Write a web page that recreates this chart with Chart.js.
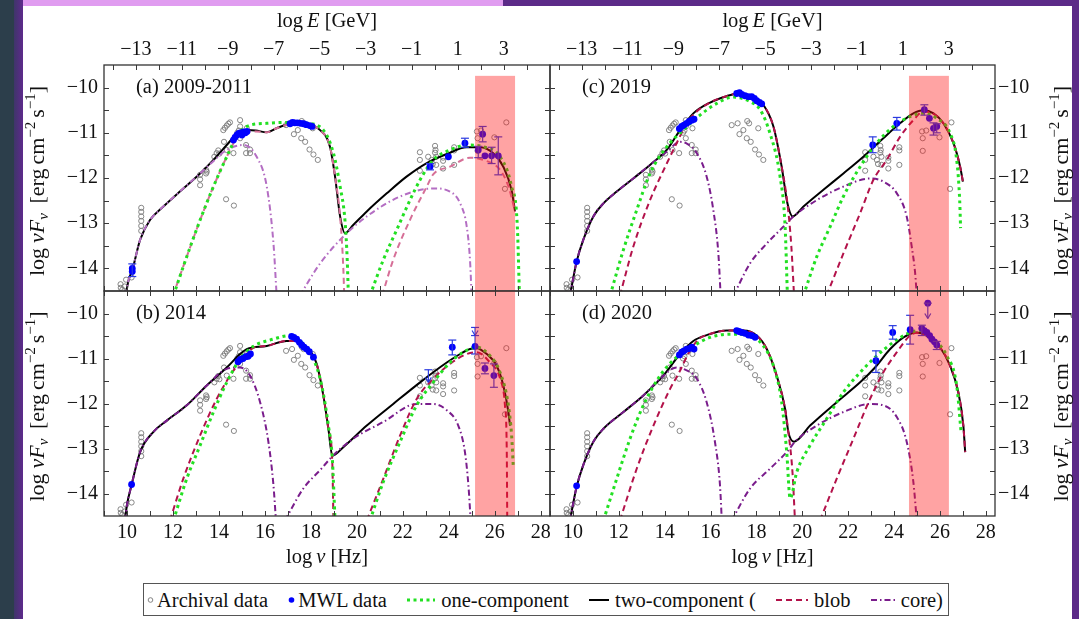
<!DOCTYPE html>
<html><head><meta charset="utf-8">
<script src="https://cdn.jsdelivr.net/npm/chart.js@4.4.1/dist/chart.umd.min.js"></script>
<style>
html,body{margin:0;padding:0;width:1079px;height:619px;overflow:hidden;background:#fff;font-family:'Liberation Serif','Times New Roman',serif;}
.abs{position:absolute;}
#sL1{left:0;top:0;width:14px;height:619px;background:#2c3e4b;}
#sL2{left:14px;top:0;width:9px;height:619px;background:linear-gradient(90deg,#3f356a,#5e2a8c);}
#sR{left:1072px;top:0;width:7px;height:619px;background:#5c2a88;}
#tA{left:23px;top:0;width:480px;height:6px;background:#e09cf0;}
#tB{left:503px;top:0;width:576px;height:6px;background:#5c2a88;}
canvas{position:absolute;left:0;top:0;}
#legend{left:143px;top:583px;width:806px;height:33px;border:1px solid #555;background:#fff;box-sizing:border-box;
  display:flex;align-items:center;justify-content:space-between;padding:0 5px 0 3px;}
#legend .it{display:flex;align-items:center;font-size:20.5px;line-height:22px;color:#111;white-space:nowrap;}
#legend svg{display:block;margin-right:3px;}
</style></head><body>
<div class="abs" id="sL1"></div><div class="abs" id="sL2"></div><div class="abs" id="sR"></div>
<div class="abs" id="tA"></div><div class="abs" id="tB"></div>
<canvas id="ca" width="1079" height="619"></canvas>
<canvas id="cb" width="1079" height="619"></canvas>
<canvas id="cc" width="1079" height="619"></canvas>
<canvas id="cd" width="1079" height="619"></canvas>
<div class="abs" id="legend">
 <div class="it"><svg width="7" height="8"><circle cx="3.5" cy="4" r="2.3" fill="none" stroke="#777" stroke-width="0.9"/></svg>Archival data</div>
 <div class="it"><svg width="7" height="8"><circle cx="3.5" cy="4" r="2.8" fill="#0000ff"/></svg>MWL data</div>
 <div class="it"><svg width="28" height="10" style="margin-right:6px"><line x1="0" y1="5" x2="28" y2="5" stroke="#22e022" stroke-width="3" stroke-dasharray="3,3.5"/></svg>one-component</div>
 <div class="it"><svg width="20" height="10" style="margin-right:6px"><line x1="0" y1="5" x2="20" y2="5" stroke="#000" stroke-width="2"/></svg>two-component (</div>
 <div class="it"><svg width="32" height="10" style="margin-right:6px"><line x1="0" y1="5" x2="32" y2="5" stroke="#b3124a" stroke-width="2" stroke-dasharray="6,4"/></svg>blob</div>
 <div class="it"><svg width="26" height="10" style="margin-right:4px"><line x1="0" y1="5" x2="26" y2="5" stroke="#7a1d8c" stroke-width="2" stroke-dasharray="6,3,1.5,3"/></svg>core)</div>
</div>
<script>
// ---------------- axes ----------------
const nuRange = [9, 28.4];
const fRange = [-14.5, -9.5];
const logHGeV = -23.383;            // log E[GeV] = log nu[Hz] + log(h/GeV)
const nuTicks = [9,10,11,12,13,14,15,16,17,18,19,20,21,22,23,24,25,26,27,28];
const nuLabels = [10,12,14,16,18,20,22,24,26,28];
const eTicks = [-14,-13,-12,-11,-10,-9,-8,-7,-6,-5,-4,-3,-2,-1,0,1,2,3,4,5];
const eLabels = [-13,-11,-9,-7,-5,-3,-1,1,3];
const fTicks = [-14.5,-14,-13.5,-13,-12.5,-12,-11.5,-11,-10.5,-10,-9.5];
const fLabels = [-14,-13,-12,-11,-10];
const bandLeft = [25.14, 26.88];    // shaded VHE window, panels a,b
const bandRight = [24.65, 26.39];   // panels c,d
const bandTop = -9.74;

// ---------------- archival data (same in all panels) ----------------
const archival = [
[9.72,-14.35],[9.73,-14.43],[9.80,-14.47],[9.90,-14.40],[9.96,-14.25],[10.20,-14.20],
[10.62,-12.66],[10.62,-12.75],[10.62,-12.85],[10.62,-12.95],[10.62,-13.06],[10.62,-13.17],
[13.18,-11.93],[13.18,-12.03],[13.18,-12.16],[13.44,-11.82],[13.44,-11.90],[13.47,-11.86],
[13.80,-11.53],[13.90,-11.45],[13.97,-11.39],[14.02,-11.46],
[14.19,-10.94],[14.26,-10.89],[14.34,-10.84],[14.41,-10.80],[14.48,-10.77],[14.92,-10.72],
[14.22,-11.20],[14.34,-11.38],[14.31,-12.47],[14.65,-12.61],[14.63,-11.45],[14.92,-10.86],[14.92,-11.12],
[15.18,-11.27],[15.35,-11.37],[15.18,-11.45],[15.35,-11.45],[15.21,-10.90],[14.80,-11.00],[14.86,-10.95],
[16.92,-10.83],[17.18,-10.79],[17.26,-11.03],[17.43,-10.94],[17.60,-10.74],[17.68,-10.79],[17.58,-11.12],
[17.75,-11.20],[17.94,-11.37],[18.08,-10.90],[18.11,-11.48],[18.30,-11.60],
[22.74,-11.43],[22.74,-11.60],[22.74,-11.84],[23.10,-11.53],[23.25,-11.60],[23.30,-11.69],[23.40,-11.29],
[23.42,-11.38],[23.40,-11.44],[23.45,-11.53],[23.45,-11.71],[23.75,-11.55],[23.75,-11.62],[23.75,-11.79],
[24.23,-11.32],[24.23,-11.39],[24.23,-11.71],
[25.22,-10.97],[25.25,-11.12],[25.25,-11.40],[25.40,-10.95],[25.98,-11.10],[26.50,-10.77],[26.44,-12.24]
];

// ---------------- (a) 2009-2011 ----------------
const a_two = [[9.95,-14.6],[10.05,-14.3],[10.25,-14.0],[10.57,-13.37],[11.0,-12.93],[11.5,-12.67],[12.3,-12.3],[13.18,-11.90],[13.76,-11.60],[14.34,-11.27],[14.77,-11.03],[15.21,-10.94],[15.6,-10.95],[16.08,-10.99],[16.5,-10.9],[16.95,-10.83],[17.82,-10.83],[18.40,-10.94],[18.83,-11.31],[19.05,-11.97],[19.27,-12.85],[19.48,-13.22],[19.84,-13.04],[20.43,-12.74],[21.30,-12.34],[22.16,-11.97],[23.04,-11.67],[23.91,-11.47],[24.78,-11.32],[25.35,-11.32],[25.93,-11.45],[26.37,-11.75],[26.73,-12.27],[26.88,-12.74]];
const a_one_syn = [[12.02,-14.6],[12.60,-13.74],[13.18,-12.93],[13.76,-12.19],[14.34,-11.53],[14.77,-11.09],[15.21,-10.86],[16.08,-10.79],[16.95,-10.77],[17.82,-10.79],[18.54,-10.94],[18.98,-11.45],[19.27,-12.19],[19.48,-12.93],[19.58,-13.81],[19.63,-14.6]];
const a_one_ic = [[20.57,-14.6],[21.15,-13.81],[21.73,-13.15],[22.31,-12.49],[22.75,-12.04],[23.32,-11.60],[24.05,-11.38],[24.78,-11.27],[25.50,-11.31],[26.23,-11.53],[26.73,-12.19],[26.98,-13.08],[27.07,-14.6]];
const a_blob_syn = [[12.0,-14.6],[12.6,-13.74],[13.18,-12.93],[13.76,-12.19],[14.34,-11.53],[14.77,-11.12],[15.21,-10.98],[15.6,-10.97],[16.08,-10.99],[16.5,-10.9],[16.95,-10.83],[17.82,-10.83],[18.40,-10.94],[18.83,-11.31],[19.05,-11.97],[19.27,-12.85],[19.41,-14.0],[19.45,-14.6]];
const a_blob_ic = [[21.1,-14.6],[21.58,-13.81],[22.38,-12.85],[23.04,-12.19],[23.32,-11.92],[24.05,-11.75],[24.92,-11.55],[25.5,-11.6],[26.23,-11.82],[26.6,-12.2],[26.88,-12.74]];
const a_core_syn = [[9.95,-14.6],[10.05,-14.3],[10.25,-14.0],[10.57,-13.37],[11.0,-12.93],[11.5,-12.67],[12.3,-12.3],[13.18,-11.9],[13.6,-11.7],[14.34,-11.38],[15.06,-11.27],[15.64,-11.53],[16.08,-12.19],[16.37,-13.44],[16.51,-14.6]];
const a_core_ic = [[17.52,-14.6],[18.4,-13.89],[19.48,-13.26],[20.43,-12.85],[21.88,-12.41],[23.32,-12.23],[24.05,-12.30],[24.49,-12.56],[24.78,-13.08],[24.92,-13.81],[24.99,-14.6]];
const a_mwl = [[10.23,-14.0],[10.23,-14.07],[14.63,-11.16],[14.70,-11.10],[14.78,-11.05],[14.85,-11.02],[14.92,-11.00],[15.00,-11.05],[15.07,-10.98],[15.15,-11.00],[15.22,-10.97],[17.09,-10.80],[17.20,-10.77],[17.30,-10.78],[17.42,-10.78],[17.55,-10.79],[17.68,-10.80],[17.80,-10.82],[17.95,-10.84],[18.05,-10.86],[23.18,-11.75],[23.98,-11.53],[24.70,-11.23],[25.47,-11.03],[25.28,-11.38],[25.57,-11.51],[25.86,-11.51],[26.15,-11.51]];
const a_err = [[10.23,-13.90,-14.18],[23.18,-11.68,-11.82],[24.70,-11.12,-11.32],[25.47,-10.86,-11.20],[25.28,-11.30,-11.55],[25.86,-11.32,-11.68],[26.15,-11.09,-11.93]];
const a_ul = [];

// ---------------- (b) 2014 ----------------
const b_two = [[9.91,-14.6],[10.0,-14.25],[10.20,-13.81],[10.57,-13.08],[11.15,-12.63],[11.73,-12.38],[12.60,-12.04],[13.47,-11.60],[14.34,-11.20],[14.92,-10.90],[15.21,-10.79],[16.08,-10.72],[16.95,-10.61],[17.38,-10.61],[17.82,-10.75],[18.25,-11.12],[18.54,-11.82],[18.76,-12.56],[18.93,-13.16],[19.41,-12.97],[20.43,-12.49],[21.58,-12.01],[22.75,-11.53],[23.91,-11.09],[24.49,-10.90],[24.92,-10.79],[25.21,-10.77],[25.65,-10.90],[26.08,-11.16],[26.37,-11.60],[26.59,-12.19],[26.66,-12.49]];
const b_one_syn = [[12.02,-14.6],[12.60,-13.67],[13.18,-12.93],[13.76,-12.19],[14.34,-11.53],[14.92,-11.01],[15.50,-10.73],[16.36,-10.57],[17.09,-10.49],[17.67,-10.68],[18.11,-11.01],[18.47,-11.60],[18.76,-12.49],[18.93,-13.22],[19.05,-14.6]];
const b_one_ic = [[20.57,-14.6],[21.15,-13.74],[21.88,-12.85],[22.60,-12.04],[23.32,-11.53],[24.05,-11.09],[24.63,-10.86],[25.21,-10.75],[25.79,-10.94],[26.23,-11.31],[26.59,-12.04],[26.73,-12.71],[26.80,-13.37]];
const b_blob_syn = [[11.87,-14.6],[12.45,-13.67],[13.18,-12.71],[13.90,-11.90],[14.63,-11.27],[15.21,-10.90],[15.5,-10.76],[16.08,-10.72],[16.95,-10.61],[17.38,-10.61],[17.82,-10.75],[18.25,-11.12],[18.54,-11.82],[18.76,-12.56],[18.93,-13.3],[18.98,-14.6]];
const b_blob_ic = [[20.43,-14.6],[21.15,-13.67],[21.88,-12.71],[22.60,-11.90],[23.32,-11.45],[24.05,-11.12],[24.78,-10.90],[25.21,-10.86],[25.79,-11.09],[26.23,-11.45],[26.44,-12.04],[26.52,-13.08],[26.54,-14.6]];
const b_core_syn = [[9.91,-14.6],[10.0,-14.25],[10.20,-13.81],[10.57,-13.08],[11.15,-12.63],[11.73,-12.38],[12.60,-12.04],[13.47,-11.60],[14.34,-11.23],[14.92,-11.20],[15.35,-11.38],[15.79,-11.97],[16.15,-12.85],[16.37,-13.81],[16.48,-14.6]];
const b_core_ic = [[16.87,-14.6],[17.67,-13.89],[18.40,-13.48],[18.98,-13.15],[19.85,-12.78],[21.15,-12.41],[22.60,-12.01],[23.32,-12.01],[23.91,-12.15],[24.41,-12.49],[24.70,-13.08],[24.85,-13.81],[24.95,-14.6]];
const b_mwl = [[10.20,-13.80],[14.83,-11.07],[14.93,-11.02],[15.05,-11.00],[15.17,-10.96],[15.27,-10.95],[15.37,-10.90],[17.16,-10.51],[17.26,-10.53],[17.38,-10.57],[17.50,-10.64],[17.60,-10.70],[17.70,-10.75],[17.82,-10.79],[17.93,-10.85],[18.11,-10.97],[24.15,-10.75],[25.14,-10.73],[25.57,-11.22],[25.96,-11.38]];
const b_err = [[24.15,-10.59,-10.92],[25.14,-10.49,-10.90],[25.57,-11.10,-11.34],[25.96,-11.12,-11.64]];
const b_ul = [[23.11,-11.25,-11.53],[25.14,-10.31,-10.49]];

// ---------------- (c) 2019 ----------------
const c_two = [[9.87,-14.6],[10.0,-14.25],[10.16,-13.85],[10.45,-13.37],[10.89,-12.85],[11.33,-12.56],[11.91,-12.30],[12.63,-12.01],[13.36,-11.71],[14.09,-11.38],[14.67,-10.94],[15.25,-10.57],[15.98,-10.33],[16.70,-10.19],[17.21,-10.13],[17.87,-10.21],[18.30,-10.38],[18.74,-10.86],[19.10,-11.75],[19.35,-12.56],[19.58,-12.85],[20.05,-12.63],[20.92,-12.26],[21.79,-11.90],[22.66,-11.53],[23.53,-11.12],[24.26,-10.79],[24.84,-10.57],[25.28,-10.50],[25.72,-10.57],[26.15,-10.79],[26.59,-11.23],[26.88,-11.75],[27.0,-12.08]];
const c_one_syn = [[11.62,-14.6],[12.20,-13.59],[12.78,-12.71],[13.36,-11.90],[14.09,-11.31],[14.81,-10.94],[15.54,-10.61],[16.27,-10.35],[16.99,-10.21],[17.72,-10.31],[18.16,-10.49],[18.59,-11.01],[19.03,-11.97],[19.25,-13.08],[19.35,-14.6]];
const c_one_ic = [[20.05,-14.6],[20.63,-13.74],[21.21,-13.08],[21.79,-12.41],[22.52,-11.75],[23.24,-11.23],[23.97,-10.86],[24.70,-10.64],[25.28,-10.57],[25.86,-10.68],[26.44,-11.01],[26.73,-11.60],[26.86,-12.49],[26.9,-13.11]];
const c_blob_syn = [[12.05,-14.6],[12.63,-13.52],[13.36,-12.49],[14.09,-11.68],[14.52,-11.23],[14.9,-10.85],[15.25,-10.6],[15.98,-10.33],[16.70,-10.19],[17.21,-10.13],[17.87,-10.21],[18.30,-10.38],[18.74,-10.86],[19.10,-11.75],[19.35,-12.56],[19.52,-13.5],[19.64,-14.6]];
const c_blob_ic = [[21.06,-14.6],[21.79,-13.67],[22.52,-12.78],[23.10,-12.04],[23.68,-11.60],[24.26,-11.09],[24.84,-10.72],[25.28,-10.53],[25.72,-10.58],[26.15,-10.79],[26.59,-11.23],[26.88,-11.75],[27.0,-12.08]];
const c_core_syn = [[9.87,-14.6],[10.0,-14.25],[10.16,-13.85],[10.45,-13.37],[10.89,-12.85],[11.33,-12.56],[11.91,-12.30],[12.63,-12.01],[13.36,-11.71],[14.09,-11.42],[14.67,-11.20],[15.0,-11.25],[15.40,-11.45],[15.83,-11.97],[16.12,-12.71],[16.34,-13.67],[16.44,-14.6]];
const c_core_ic = [[17.0,-14.6],[17.72,-13.89],[18.45,-13.45],[19.17,-13.08],[19.61,-12.85],[20.63,-12.49],[21.79,-12.19],[22.95,-12.01],[23.53,-12.08],[24.12,-12.34],[24.55,-12.85],[24.77,-13.52],[24.92,-14.11],[24.99,-14.6]];
const c_mwl = [[10.16,-13.85],[14.64,-10.91],[14.74,-10.86],[14.84,-10.83],[14.96,-10.79],[15.07,-10.75],[15.18,-10.72],[15.28,-10.70],[17.14,-10.13],[17.26,-10.11],[17.36,-10.15],[17.50,-10.18],[17.65,-10.20],[17.79,-10.20],[17.91,-10.24],[18.01,-10.29],[18.13,-10.33],[18.23,-10.36],[23.07,-11.27],[24.12,-10.79],[25.32,-10.49],[25.54,-10.68],[25.72,-10.90],[25.86,-10.86]];
const c_err = [[23.07,-11.09,-11.44],[24.12,-10.66,-10.94],[25.32,-10.38,-10.61],[25.72,-10.78,-11.05],[25.86,-10.80,-11.00]];
const c_ul = [];

// ---------------- (d) 2020 ----------------
const d_two = [[9.87,-14.6],[10.0,-14.25],[10.16,-13.85],[10.45,-13.37],[10.89,-12.85],[11.33,-12.56],[12.20,-12.19],[13.07,-11.82],[13.94,-11.38],[14.67,-10.90],[15.25,-10.61],[15.83,-10.48],[16.70,-10.38],[17.43,-10.38],[18.01,-10.49],[18.45,-10.79],[18.88,-11.38],[19.25,-12.12],[19.39,-12.63],[19.64,-12.85],[20.34,-12.49],[21.50,-11.97],[22.52,-11.53],[23.17,-11.20],[23.83,-10.79],[24.41,-10.53],[24.99,-10.42],[25.42,-10.49],[26.0,-10.75],[26.44,-11.16],[26.80,-11.75],[27.02,-12.49],[27.10,-13.08]];
const d_one_syn = [[11.33,-14.6],[11.91,-13.67],[12.49,-12.78],[13.07,-12.04],[13.80,-11.38],[14.52,-10.97],[15.25,-10.72],[15.98,-10.53],[16.85,-10.46],[17.72,-10.49],[18.30,-10.72],[18.74,-11.16],[19.10,-11.97],[19.32,-13.08],[19.47,-14.11],[19.76,-13.52],[20.34,-12.93],[21.06,-12.34],[21.79,-11.75],[22.52,-11.31],[23.24,-10.94],[23.97,-10.64],[24.70,-10.42],[25.13,-10.38],[25.72,-10.57],[26.30,-10.94],[26.73,-11.60],[26.92,-12.63]];
const d_one_ic = [];
const d_blob_syn = [[12.05,-14.6],[12.78,-13.45],[13.51,-12.49],[14.23,-11.68],[14.60,-11.34],[15.10,-10.83],[15.5,-10.56],[15.83,-10.48],[16.70,-10.38],[17.43,-10.38],[18.01,-10.49],[18.45,-10.79],[18.88,-11.38],[19.25,-12.12],[19.39,-12.63],[19.57,-13.52],[19.68,-14.6]];
const d_blob_ic = [[20.77,-14.6],[21.50,-13.67],[22.23,-12.78],[22.95,-11.90],[23.53,-11.31],[24.12,-10.86],[24.70,-10.49],[24.99,-10.43],[25.42,-10.49],[26.0,-10.75],[26.44,-11.16],[26.80,-11.75],[27.02,-12.49],[27.10,-13.08]];
const d_core_syn = [[9.87,-14.6],[10.0,-14.25],[10.16,-13.85],[10.45,-13.37],[10.89,-12.85],[11.33,-12.56],[12.20,-12.19],[13.07,-11.82],[13.8,-11.45],[14.52,-11.20],[14.81,-11.23],[15.40,-11.45],[15.83,-11.97],[16.19,-12.85],[16.41,-13.81],[16.49,-14.6]];
const d_core_ic = [[16.92,-14.6],[17.72,-13.89],[18.59,-13.45],[19.39,-13.04],[19.68,-12.85],[20.63,-12.49],[21.79,-12.19],[22.95,-12.01],[23.53,-12.04],[24.12,-12.30],[24.55,-12.85],[24.84,-13.74],[24.99,-14.6]];
const d_mwl = [[10.16,-13.83],[14.64,-10.92],[14.74,-10.86],[14.84,-10.83],[14.96,-10.79],[15.07,-10.78],[15.18,-10.75],[15.28,-10.79],[17.14,-10.38],[17.24,-10.40],[17.36,-10.42],[17.50,-10.44],[17.65,-10.48],[17.79,-10.49],[17.94,-10.53],[23.21,-11.05],[23.94,-10.42],[24.70,-10.36],[25.47,-9.77],[25.21,-10.33],[25.32,-10.38],[25.43,-10.42],[25.55,-10.49],[25.65,-10.57],[25.76,-10.63],[25.86,-10.70]];
const d_err = [[23.21,-10.83,-11.31],[23.94,-10.27,-10.57],[24.70,-10.04,-10.68],[25.21,-10.26,-10.49],[25.86,-10.62,-10.80]];
const d_ul = [[25.47,-9.77,-10.11]];

// ---------------- drawing ----------------
const W = 1079, H = 619;
const FONT = "'Liberation Serif','Times New Roman',serif";
const toXY = a => a.map(p => ({x:p[0], y:p[1]}));
const fmt = v => (v < 0 ? '\u2212' + Math.abs(v) : String(v));

function rich(ctx, segs, cx, cy, rot, size) {
  ctx.save(); ctx.translate(cx, cy); ctx.rotate(rot);
  ctx.fillStyle = '#111'; ctx.textBaseline = 'alphabetic'; ctx.textAlign = 'left';
  const f = s => (s.i ? 'italic ' : '') + (s.sz || size) + 'px ' + FONT;
  let w = 0; for (const s of segs) { ctx.font = f(s); w += ctx.measureText(s.t).width + (s.gap || 0); }
  let px = -w / 2;
  for (const s of segs) { ctx.font = f(s); ctx.fillText(s.t, px, s.dy || 0); px += ctx.measureText(s.t).width + (s.gap || 0); }
  ctx.restore();
}
const yTitle = [{t:'log',gap:5},{t:'\u03bd',i:1},{t:'F',i:1},{t:'\u03bd',i:1,sz:15,dy:4,gap:4},{t:' [erg',gap:4},{t:'cm'},{t:'\u22122',sz:15,dy:-9,gap:4},{t:'s'},{t:'\u22121',sz:15,dy:-9},{t:']'}];
const eTitle = [{t:'log',gap:4},{t:'E',i:1},{t:' [GeV]'}];
const nuTitle = [{t:'log',gap:4},{t:'\u03bd',i:1},{t:' [Hz]'}];

function makePlugin(p) {
  return {
    id: 'sed' + p.id,
    afterDatasetsDraw(chart) {
      const ctx = chart.ctx, xs = chart.scales.x, ys = chart.scales.y, ca = chart.chartArea;
      const X = v => xs.getPixelForValue(v), Y = v => ys.getPixelForValue(v);
      const ln = (x1, y1, x2, y2) => { ctx.beginPath(); ctx.moveTo(x1, y1); ctx.lineTo(x2, y2); ctx.stroke(); };
      ctx.save();
      ctx.beginPath(); ctx.rect(ca.left, ca.top, ca.right - ca.left, ca.bottom - ca.top); ctx.clip();
      ctx.strokeStyle = '#2a3ae0'; ctx.lineWidth = 1.2;
      for (const e of p.err) {
        const px = X(e[0]), y1 = Y(e[1]), y2 = Y(e[2]);
        ln(px, y1, px, y2); ln(px - 4, y1, px + 4, y1); ln(px - 4, y2, px + 4, y2);
      }
      for (const u of p.ul) {
        const px = X(u[0]), y1 = Y(u[1]), y2 = Y(u[2]);
        ln(px - 4, y1, px + 4, y1); ln(px, y1, px, y2);
        ln(px - 3, y2 - 5, px, y2); ln(px + 3, y2 - 5, px, y2);
      }
      // shaded band (over the data)
      const bx1 = X(p.band[0]), bx2 = X(p.band[1]);
      const by1 = p.top ? Y(bandTop) : ca.top;
      ctx.fillStyle = 'rgba(255,25,25,0.40)';
      ctx.fillRect(bx1, by1, bx2 - bx1, ca.bottom - by1);
      ctx.restore();

      // frame + inward ticks
      ctx.save();
      ctx.strokeStyle = '#3a3a3a'; ctx.lineWidth = 1;
      const TL = 5;
      for (const v of fTicks) {
        if (v <= fRange[0] || v >= fRange[1]) continue;
        const py = Math.round(Y(v)) + 0.5;
        ln(ca.left, py, ca.left + TL, py); ln(ca.right - TL, py, ca.right, py);
      }
      for (const v of nuTicks) {
        const px = Math.round(X(v)) + 0.5;
        ln(px, ca.bottom, px, ca.bottom - TL);
        if (!p.top) ln(px, ca.top, px, ca.top + TL);
      }
      if (p.top) {
        const es = chart.scales.xE;
        for (const v of eTicks) {
          const px = Math.round(es.getPixelForValue(v)) + 0.5;
          if (px <= ca.left || px >= ca.right) continue;
          ln(px, ca.top, px, ca.top + TL);
        }
      }
      ctx.lineWidth = 1.3; ctx.strokeStyle = '#333';
      ctx.strokeRect(ca.left, ca.top, ca.right - ca.left, ca.bottom - ca.top);
      ctx.restore();

      // panel label
      ctx.save();
      ctx.font = '20.5px ' + FONT; ctx.fillStyle = '#111'; ctx.textBaseline = 'alphabetic';
      ctx.fillText(p.label, ca.left + 32, ca.top + 28);
      ctx.restore();

      // axis titles
      const cy = (ca.top + ca.bottom) / 2 + 3, cx = (ca.left + ca.right) / 2;
      if (p.side === 'left') rich(ctx, yTitle, 44, cy, -Math.PI / 2, 22);
      else rich(ctx, yTitle, 1068, cy, -Math.PI / 2, 22);
      if (p.top) rich(ctx, eTitle, cx, 27, 0, 20.5);
      else rich(ctx, nuTitle, cx, 563, 0, 20.5);
    }
  };
}

const STY = {
  two: {borderColor:'#000000', borderWidth:2, borderDash:[]},
  one: {borderColor:'#22e022', borderWidth:3, borderDash:[3,3.6]},
};

function lineDS(arr, st) {
  return Object.assign({data: toXY(arr), showLine:true, pointRadius:0, fill:false,
    cubicInterpolationMode:'monotone', clip:0, borderCapStyle:'butt'}, st);
}

const AX_W = 60, AX_H = 50;
function makePanel(p) {
  const blobSt = {borderColor:p.blobCol, borderWidth:2, borderDash:[6,4]};
  const coreSt = {borderColor:p.coreCol, borderWidth:2, borderDash:[6,3,1.5,3]};
  const ds = [
    {data: toXY(p.mwl), pointRadius:3.4, pointBackgroundColor:'#0000ff', pointBorderWidth:0, showLine:false, clip:0},
    lineDS(p.oneS, STY.one),
    lineDS(p.oneI, STY.one),
    lineDS(p.blobS, blobSt),
    lineDS(p.blobI, blobSt),
    lineDS(p.coreS, coreSt),
    lineDS(p.coreI, coreSt),
    lineDS(p.two, STY.two),
    {data: toXY(archival), pointRadius:2.6, pointBackgroundColor:'rgba(0,0,0,0)', pointBorderColor:'#7a7a7a', pointBorderWidth:0.9, showLine:false, clip:0}
  ];
  const tickFont = {family: FONT, size: 20};
  const fixW = s => { if (s.options.display) s.width = AX_W; else s.width = 0; };
  const fixH = s => { if (s.options.display) s.height = AX_H; else s.height = 0; };
  const scales = {
    x: {type:'linear', min:nuRange[0], max:nuRange[1], position:'bottom', display: !p.top,
        grid:{display:false, drawTicks:false}, border:{display:false},
        afterBuildTicks: s => { s.ticks = nuTicks.map(v => ({value:v})); },
        afterFit: fixH,
        ticks:{autoSkip:false, maxRotation:0, minRotation:0, padding:5, font:tickFont, color:'#111',
               callback: v => nuLabels.includes(v) ? fmt(v) : ''}},
    y: {type:'linear', min:fRange[0], max:fRange[1], position:p.side,
        grid:{display:false, drawTicks:false}, border:{display:false},
        afterBuildTicks: s => { s.ticks = fTicks.map(v => ({value:v})); },
        afterFit: fixW,
        ticks:{autoSkip:false, padding: p.side === 'left' ? 6 : 3, font:tickFont, color:'#111',
               callback: v => fLabels.includes(v) ? fmt(v) : ''}}
  };
  if (p.top) {
    scales.xE = {type:'linear', min:nuRange[0] + logHGeV, max:nuRange[1] + logHGeV, position:'top',
        grid:{display:false, drawTicks:false}, border:{display:false},
        afterBuildTicks: s => { s.ticks = eTicks.map(v => ({value:v})); },
        afterFit: fixH,
        ticks:{autoSkip:false, maxRotation:0, minRotation:0, padding:3, font:tickFont, color:'#111',
               callback: v => eLabels.includes(v) ? fmt(v) : ''}};
  }
  const pad = {
    left: p.box[0] - (p.side === 'left' ? AX_W : 0),
    right: W - p.box[2] - (p.side === 'right' ? AX_W : 0),
    top: p.box[1] - (p.top ? AX_H : 0),
    bottom: H - p.box[3] - (p.top ? 0 : AX_H)
  };
  new Chart(document.getElementById(p.canvas), {
    type:'scatter',
    data:{datasets: ds},
    options:{
      responsive:false, animation:false, events:[],
      layout:{padding: pad},
      plugins:{legend:{display:false}, tooltip:{enabled:false}},
      scales
    },
    plugins:[makePlugin(p)]
  });
}

const colA = {blob:'#d66f97', core:'#b46ec3'};
const colN = {blob:'#b3124a', core:'#7a1d8c'};
makePanel({id:'a', canvas:'ca', box:[104,65,550,291], top:true, side:'left', label:'(a) 2009-2011', band:bandLeft,
  two:a_two, oneS:a_one_syn, oneI:a_one_ic, blobS:a_blob_syn, blobI:a_blob_ic, coreS:a_core_syn, coreI:a_core_ic,
  mwl:a_mwl, err:a_err, ul:a_ul, blobCol:colA.blob, coreCol:colA.core});
makePanel({id:'b', canvas:'cb', box:[104,291,550,516], top:false, side:'left', label:'(b) 2014', band:bandLeft,
  two:b_two, oneS:b_one_syn, oneI:b_one_ic, blobS:b_blob_syn, blobI:b_blob_ic, coreS:b_core_syn, coreI:b_core_ic,
  mwl:b_mwl, err:b_err, ul:b_ul, blobCol:colN.blob, coreCol:colN.core});
makePanel({id:'c', canvas:'cc', box:[550,65,995,291], top:true, side:'right', label:'(c) 2019', band:bandRight,
  two:c_two, oneS:c_one_syn, oneI:c_one_ic, blobS:c_blob_syn, blobI:c_blob_ic, coreS:c_core_syn, coreI:c_core_ic,
  mwl:c_mwl, err:c_err, ul:c_ul, blobCol:colN.blob, coreCol:colN.core});
makePanel({id:'d', canvas:'cd', box:[550,291,995,516], top:false, side:'right', label:'(d) 2020', band:bandRight,
  two:d_two, oneS:d_one_syn, oneI:d_one_ic, blobS:d_blob_syn, blobI:d_blob_ic, coreS:d_core_syn, coreI:d_core_ic,
  mwl:d_mwl, err:d_err, ul:d_ul, blobCol:colN.blob, coreCol:colN.core});
</script>
</body></html>
